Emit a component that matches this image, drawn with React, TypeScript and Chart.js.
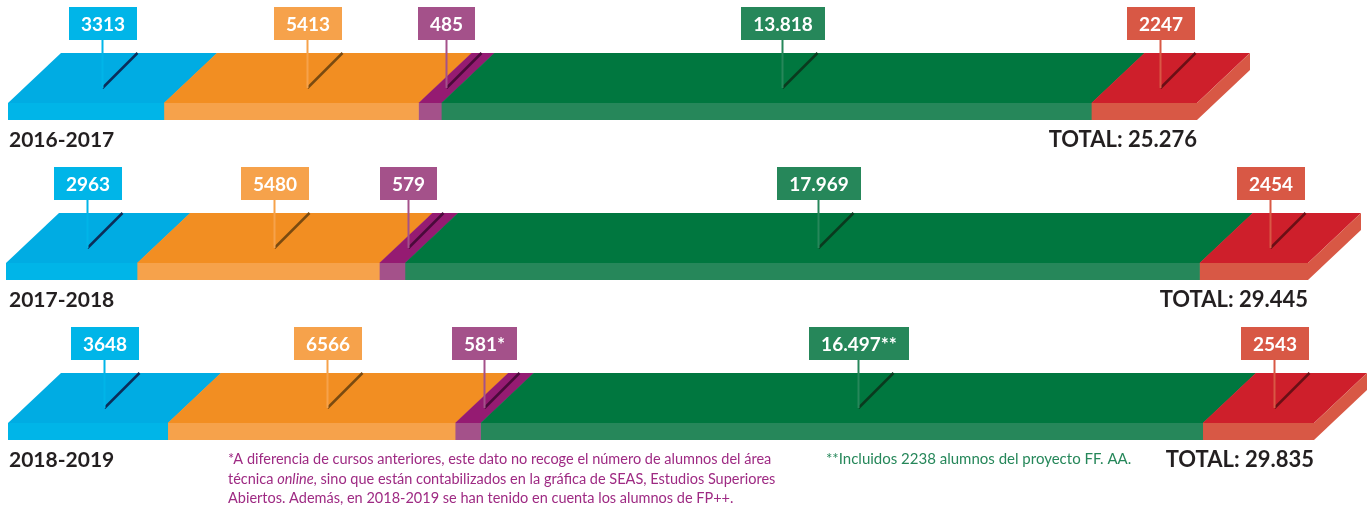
import React, { useEffect, useRef } from "react";
import { Chart, registerables } from "chart.js";

Chart.register(...registerables);

// ---------- DATA ----------
const years = ["2016-2017", "2017-2018", "2018-2019"];
const seriesNames = ["Segmento azul", "Segmento naranja", "Segmento morado", "Segmento verde", "Segmento rojo"];
const blueValues = [3313, 2963, 3648];
const orangeValues = [5413, 5480, 6566];
const purpleValues = [485, 579, 581];
const greenValues = [13818, 17969, 16497];
const redValues = [2247, 2454, 2543];
const purpleMarks = ["", "", "*"];
const greenMarks = ["", "", "**"];
const totalPrefix = "TOTAL: ";
const noteOneLines = [
  "*A diferencia de cursos anteriores, este dato no recoge el número de alumnos del área",
  "técnica |online|, sino que están contabilizados en la gráfica de SEAS, Estudios Superiores",
  "Abiertos. Además, en 2018-2019 se han tenido en cuenta los alumnos de FP++.",
];
const noteTwo = "**Incluidos 2238 alumnos del proyecto FF. AA.";

// ---------- STYLE / LAYOUT ----------
const topColors = ["#00ACE3", "#F28E22", "#951B72", "#00773F", "#CE1F2B"];
const frontColors = ["#00B5E8", "#F6A24B", "#A4518A", "#26875A", "#D85845"];
const shadowColors = ["#0B2D5A", "#7A4A10", "#4A0A3A", "#0A3A1E", "#6B0F15"];
const rowTops = [0, 160, 320];
const rowHeights = [160, 160, 188];
const rowStarts = [8, 6, 8];
const rowEnds = [1197, 1308, 1314];
const W = 1369;
const FRONT_TOP = 103;
const FRONT_BOTTOM = 120;
const DX = 53;
const DY = 50;

function fmt(n: number): string {
  const s = String(n);
  if (n < 10000) return s;
  return s.replace(/\B(?=(\d{3})+(?!\d))/g, ".");
}

const depthPlugin = {
  id: "depth3d",
  afterDatasetsDraw(chart: any, _args: any, opts: any) {
    const ctx: CanvasRenderingContext2D = chart.ctx;
    const row: number = opts.row;
    const n = chart.data.datasets.length;
    const els: any[] = [];
    for (let i = 0; i < n; i++) {
      const el = chart.getDatasetMeta(i).data[0];
      const p = el.getProps(["x", "base", "y", "height"], true);
      els.push({
        left: Math.min(p.x, p.base),
        right: Math.max(p.x, p.base),
        top: p.y - p.height / 2,
        bottom: p.y + p.height / 2,
      });
    }
    ctx.save();
    // top faces
    for (let i = 0; i < n; i++) {
      const e = els[i];
      const r = i < n - 1 ? e.right + 0.6 : e.right;
      ctx.fillStyle = topColors[i];
      ctx.beginPath();
      ctx.moveTo(e.left, e.top);
      ctx.lineTo(r, e.top);
      ctx.lineTo(r + DX, e.top - DY);
      ctx.lineTo(e.left + DX, e.top - DY);
      ctx.closePath();
      ctx.fill();
    }
    // side face
    const last = els[n - 1];
    ctx.fillStyle = frontColors[n - 1];
    ctx.beginPath();
    ctx.moveTo(last.right, last.top);
    ctx.lineTo(last.right + DX, last.top - DY);
    ctx.lineTo(last.right + DX, last.bottom - DY);
    ctx.lineTo(last.right, last.bottom);
    ctx.closePath();
    ctx.fill();

    // pins, shadows, boxes
    const labels: string[] = opts.labels;
    ctx.font = "bold 19px Lato";
    for (let i = 0; i < n; i++) {
      const e = els[i];
      const px = Math.round((e.left + e.right) / 2 + (15 * DX) / DY) + 0.5;
      // shadow
      ctx.strokeStyle = shadowColors[i];
      ctx.lineWidth = 2.5;
      ctx.beginPath();
      ctx.moveTo(px, e.top - 15);
      ctx.lineTo(px + 35, e.top - DY);
      ctx.stroke();
      // pin
      ctx.strokeStyle = frontColors[i];
      ctx.lineWidth = 2;
      ctx.beginPath();
      ctx.moveTo(px, e.top - 64);
      ctx.lineTo(px, e.top - 15);
      ctx.stroke();
      // box
      const text = labels[i];
      const tw = ctx.measureText(text).width;
      const bw = Math.round(tw + 24);
      const bx = Math.round(px - bw / 2);
      const by = e.top - 96;
      ctx.fillStyle = frontColors[i];
      ctx.fillRect(bx, by, bw, 33);
      ctx.fillStyle = "#FFFFFF";
      ctx.textAlign = "center";
      ctx.textBaseline = "alphabetic";
      ctx.fillText(text, bx + bw / 2, by + 23.5);
    }

    // year and total
    ctx.fillStyle = "#231F20";
    ctx.font = "bold 21px Lato";
    ctx.textBaseline = "alphabetic";
    ctx.textAlign = "left";
    ctx.fillText(years[row], 9, last.bottom + 27);
    ctx.textAlign = "right";
    ctx.font = "bold 22px Lato";
    ctx.fillText(opts.totalText, last.right, last.bottom + 27);

    // footnotes
    if (row === 2) {
      ctx.textAlign = "left";
      ctx.fillStyle = "#9E2A83";
      const base0 = last.bottom + 24;
      noteOneLines.forEach((line, li) => {
        const parts = line.split("|");
        let x = 228;
        parts.forEach((part, pi) => {
          ctx.font = (pi % 2 === 1 ? "italic " : "") + "14.5px Lato";
          ctx.fillText(part, x, base0 + li * 19.5);
          x += ctx.measureText(part).width;
        });
      });
      ctx.font = "15px Lato";
      ctx.fillStyle = "#26875A";
      ctx.fillText(noteTwo, 826, base0);
    }
    ctx.restore();
  },
};

function BarRow({ row }: { row: number }) {
  const ref = useRef<HTMLCanvasElement | null>(null);
  useEffect(() => {
    if (!ref.current) return;
    const values = [blueValues, orangeValues, purpleValues, greenValues, redValues].map((a) => a[row]);
    const marks = ["", "", purpleMarks[row], greenMarks[row], ""];
    const total = values.reduce((a, b) => a + b, 0);
    const labels = values.map((v, i) => fmt(v) + marks[i]);
    const h = rowHeights[row];
    const chart = new Chart(ref.current, {
      type: "bar",
      data: {
        labels: [years[row]],
        datasets: values.map((v, i) => ({
          label: seriesNames[i],
          data: [v],
          backgroundColor: frontColors[i],
          borderWidth: 0,
          barPercentage: 1,
          categoryPercentage: 1,
        })),
      },
      options: {
        indexAxis: "y",
        responsive: false,
        animation: false,
        layout: {
          padding: {
            left: rowStarts[row],
            right: W - rowEnds[row],
            top: FRONT_TOP,
            bottom: h - FRONT_BOTTOM,
          },
        },
        scales: {
          x: { stacked: true, min: 0, max: total, display: false },
          y: { stacked: true, display: false },
        },
        plugins: {
          legend: { display: false },
          tooltip: { enabled: false },
          depth3d: { row, labels, totalText: totalPrefix + fmt(total) },
        } as any,
      },
      plugins: [depthPlugin],
    });
    return () => chart.destroy();
  }, [row]);
  return (
    <canvas
      ref={ref}
      width={W}
      height={rowHeights[row]}
      style={{ position: "absolute", left: 0, top: rowTops[row], width: W, height: rowHeights[row] }}
    />
  );
}

export default function App() {
  return (
    <div style={{ position: "absolute", left: 0, top: 0, width: W, height: 508, background: "#FFFFFF" }}>
      {years.map((_, r) => (
        <BarRow key={r} row={r} />
      ))}
    </div>
  );
}
